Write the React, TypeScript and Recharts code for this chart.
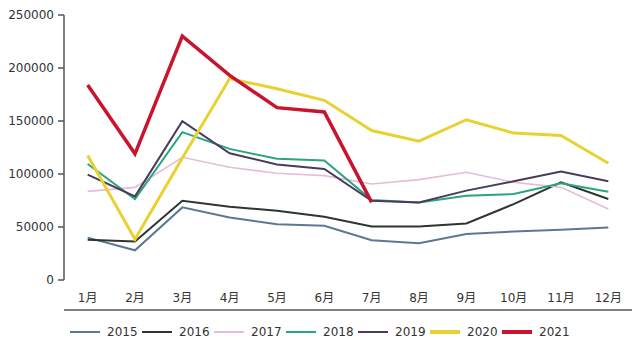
import React from 'react';
import { LineChart, Line, XAxis, YAxis, Legend } from 'recharts';

const months = ['1月', '2月', '3月', '4月', '5月', '6月', '7月', '8月', '9月', '10月', '11月', '12月'];
const yTicks = [0, 50000, 100000, 150000, 200000, 250000];
const boundaryTicks = [0, 1, 2, 3, 4, 5, 6, 7, 8, 9, 10, 11, 12];
const labelTicks = months.map((_, i) => i + 0.5);

const s2015 = [40000, 28000, 68500, 59000, 52700, 51100, 37600, 34700, 43300, 45700, 47300, 49500];
const s2016 = [38000, 36300, 74800, 69100, 65300, 59700, 50500, 50500, 53300, 71600, 92200, 76400];
const s2017 = [83600, 87400, 115800, 106400, 100700, 98500, 90600, 94700, 101600, 92200, 87400, 66900];
const s2018 = [109500, 76400, 139500, 123700, 114300, 112700, 75500, 73200, 79500, 81100, 91200, 83300];
const s2019 = [99400, 78900, 149900, 119600, 108900, 104800, 74800, 73200, 84300, 93100, 102300, 93100];
const s2020 = [117400, 38500, 115000, 190000, 180500, 169500, 141000, 131000, 151200, 138600, 136400, 110200];
const s2021 = [184000, 119000, 230100, 193000, 162600, 158500, 73200];

const seriesNames = ['2015', '2016', '2017', '2018', '2019', '2020', '2021'];
const seriesValues = [s2015, s2016, s2017, s2018, s2019, s2020, s2021];
const seriesColors = ['#5b7895', '#2c3631', '#e6bcd8', '#2aa57c', '#4a3b5e', '#e8d130', '#c8142c'];
const seriesWidths = [2, 2, 1.6, 2, 2, 3, 3.5];
const legendWidths = [2, 2, 2, 2, 2, 4, 4];

const data = months.map((m, i) => {
  const row: Record<string, any> = { month: m, idx: i + 0.5 };
  seriesNames.forEach((n, k) => {
    const v = seriesValues[k][i];
    row[n] = v === undefined ? null : v;
  });
  return row;
});

const font = '"DejaVu Sans", "Noto Sans CJK SC", sans-serif';

const LegendContent = (props: any) => {
  const payload = props.payload || [];
  return (
    <div style={{ display: 'flex', justifyContent: 'center', alignItems: 'center', height: 16, fontFamily: font, fontSize: 12, color: '#333', paddingLeft: 3 }}>
      {payload.map((p: any, i: number) => {
        const k = seriesNames.indexOf(p.value);
        return (
          <div key={i} style={{ display: 'flex', alignItems: 'center', marginRight: 4 }}>
            <svg width={30} height={10}>
              <line x1={0} y1={5} x2={30} y2={5} stroke={p.color} strokeWidth={legendWidths[k]} />
            </svg>
            <span style={{ marginLeft: 7, width: 31 }}>{p.value}</span>
          </div>
        );
      })}
    </div>
  );
};

export default function App() {
  return (
    <div style={{ position: 'absolute', left: 0, top: 0, background: '#fff' }}>
      <LineChart width={641} height={345} data={data} margin={{ top: 15, right: 9, bottom: 18, left: 8 }}>
        <XAxis
          xAxisId="b"
          type="number"
          dataKey="idx"
          domain={[0, 12]}
          ticks={boundaryTicks}
          allowDataOverflow
          height={1}
          tick={false}
          tickSize={5}
          stroke="#555"
          strokeWidth={1.5}
        />
        <XAxis
          xAxisId="a"
          type="number"
          dataKey="idx"
          domain={[0, 12]}
          ticks={labelTicks}
          allowDataOverflow
          interval={0}
          axisLine={false}
          tickLine={false}
          tickSize={0}
          tickMargin={13}
          height={30}
          tickFormatter={(v: number) => months[Math.floor(v)]}
          tick={{ fill: '#333', fontSize: 12, fontFamily: font }}
        />
        <YAxis
          width={56}
          domain={[0, 250000]}
          ticks={yTicks}
          tickSize={6}
          tickMargin={4}
          stroke="#555"
          strokeWidth={1.5}
          tick={{ fill: '#333', fontSize: 12, fontFamily: font }}
        />
        <Legend
          verticalAlign="bottom"
          content={<LegendContent />}
          wrapperStyle={{ top: 324, left: 0, width: 641 }}
        />
        {seriesNames.map((n, k) => (
          <Line
            key={n}
            xAxisId={k === 0 ? 'b' : 'a'}
            dataKey={n}
            name={n}
            type="linear"
            stroke={seriesColors[k]}
            strokeWidth={seriesWidths[k]}
            dot={false}
            activeDot={false}
            connectNulls={false}
            isAnimationActive={false}
          />
        ))}
      </LineChart>
    </div>
  );
}
